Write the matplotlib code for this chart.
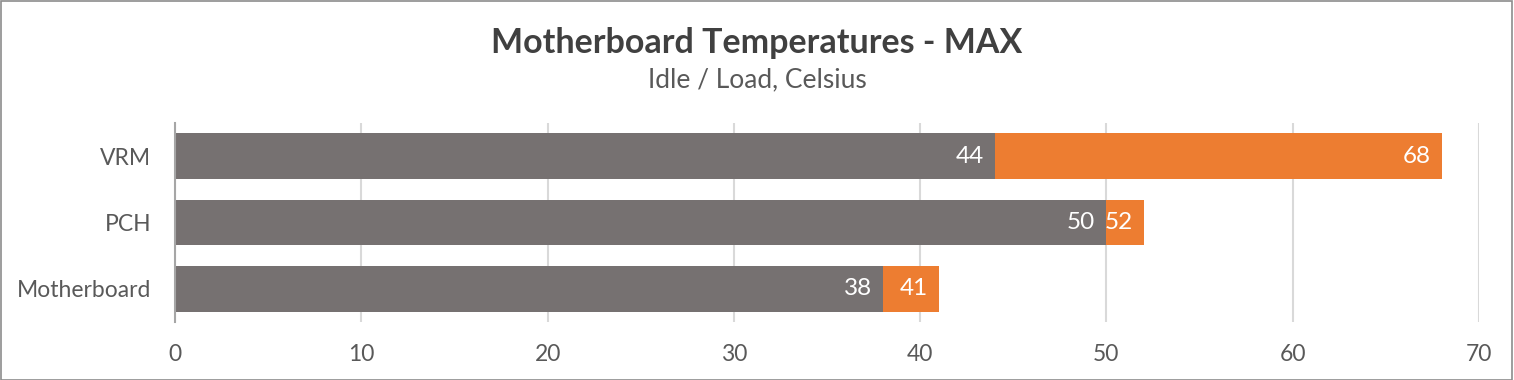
import matplotlib.pyplot as plt
from matplotlib.patches import Rectangle

# chart data
categories = ['VRM', 'PCH', 'Motherboard']
idle_vals = [44, 50, 38]
load_vals = [68, 52, 41]

GRAY = '#767171'
ORANGE = '#ED7D31'
TEXT = '#595959'

plt.rcParams['font.family'] = ['Lato', 'DejaVu Sans']

fig = plt.figure(figsize=(15.14, 3.8), dpi=100)
ax = fig.add_axes([175 / 1514, 1 - 322 / 380, (1479 - 175) / 1514, (322 - 123) / 380])

ypos = list(range(len(categories)))
h = 0.69

# load bar sits behind the idle bar
ax.barh(ypos, load_vals, height=h, color=ORANGE, zorder=2)
ax.barh(ypos, idle_vals, height=h, color=GRAY, zorder=3)

for y, iv, lv in zip(ypos, idle_vals, load_vals):
    ax.text(iv - 0.6, y, str(iv), ha='right', va='center', color='white', fontsize=17.5, zorder=4)
    ax.text(lv - 0.6, y, str(lv), ha='right', va='center', color='white', fontsize=17.5, zorder=4)

ax.set_xlim(0, 70)
ax.set_ylim(2.5, -0.5)
ax.set_yticks(ypos)
ax.set_yticklabels(categories)
ax.set_xticks(range(0, 71, 10))
ax.tick_params(axis='both', length=0, labelsize=16.5, colors=TEXT)
ax.tick_params(axis='x', pad=16)
ax.tick_params(axis='y', pad=17)

ax.grid(axis='x', color='#D9D9D9', linewidth=1.5, zorder=0)
ax.set_axisbelow(True)
for s in ['top', 'right', 'bottom']:
    ax.spines[s].set_visible(False)
ax.spines['left'].set_color('#A6A6A6')
ax.spines['left'].set_linewidth(1.5)
ax.spines['left'].set_zorder(5)

fig.text(757 / 1514, 1 - 43 / 380, 'Motherboard Temperatures - MAX', ha='center', va='center',
         fontsize=24.5, fontweight='bold', color='#404040')
fig.text(757 / 1514, 1 - 80 / 380, 'Idle / Load, Celsius', ha='center', va='center',
         fontsize=19, color=TEXT)

fig.patches.append(Rectangle((0.0005, 0.001), 0.998, 0.997, transform=fig.transFigure,
                             fill=False, edgecolor='#8C8C8C', linewidth=1.2))

fig.savefig('out.png', dpi=100)
